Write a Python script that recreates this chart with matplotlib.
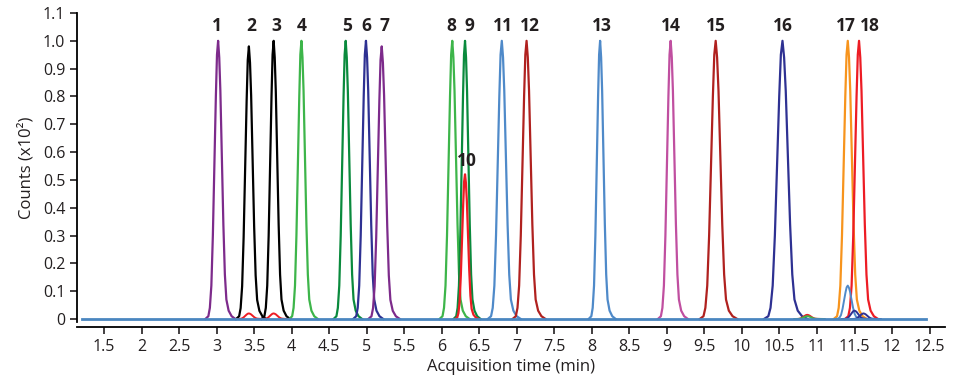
import matplotlib
matplotlib.use("Agg")
import matplotlib.pyplot as plt
import numpy as np

plt.rcParams['font.family'] = ['Open Sans', 'DejaVu Sans']

# retention time (min), height (x10^2 counts), relative width, colour of each numbered peak
peak_numbers = ['1', '2', '3', '4', '5', '6', '7', '8', '9', '10',
                '11', '12', '13', '14', '15', '16', '17', '18']
peak_times = [3.02, 3.43, 3.76, 4.13, 4.72, 4.99, 5.20, 6.14, 6.31, 6.31,
              6.80, 7.13, 8.11, 9.05, 9.65, 10.54, 11.41, 11.56]
peak_heights = [1.0, 0.98, 1.0, 1.0, 1.0, 1.0, 0.98, 1.0, 1.0, 0.52,
                1.0, 1.0, 1.0, 1.0, 1.0, 1.0, 1.0, 1.0]
peak_widths = [1.0, 1.0, 0.95, 0.95, 0.95, 1.0, 1.05, 1.0, 0.9, 0.8,
               1.1, 1.1, 0.9, 1.0, 1.25, 1.45, 1.1, 1.1]
peak_colors = ['#7D2B8B', '#000000', '#000000', '#3DB54A', '#0A8A3D', '#2E3192',
               '#7D2B8B', '#3DB54A', '#0A8A3D', '#ED1C24', '#4F8AC9', '#B0211F',
               '#4F8AC9', '#C04FA0', '#B0211F', '#2E3192', '#F7941D', '#ED1C24']

# label positions
label_x = [3.01, 3.46, 3.79, 4.13, 4.74, 4.99, 5.23, 6.13, 6.37, 6.33,
           6.82, 7.18, 8.13, 9.05, 9.65, 10.54, 11.39, 11.70]
label_y = [1.02, 1.02, 1.02, 1.02, 1.02, 1.02, 1.02, 1.02, 1.02, 0.535,
           1.02, 1.02, 1.02, 1.02, 1.02, 1.02, 1.02, 1.02]

# small co-eluting / background bumps
minor_times = [3.43, 3.76, 11.41, 10.87, 10.87, 11.50, 11.62]
minor_heights = [0.02, 0.02, 0.12, 0.015, 0.01, 0.03, 0.02]
minor_colors = ['#ED1C24', '#ED1C24', '#4F8AC9', '#ED1C24', '#3DB54A', '#2E3192', '#2E3192']

shape_offset = [-0.17, -0.13, -0.11, -0.09, -0.07, -0.05, -0.03, -0.015, 0.0,
                0.015, 0.03, 0.05, 0.07, 0.09, 0.11, 0.14, 0.18, 0.23]
shape_frac = [0.0, 0.01, 0.04, 0.12, 0.3, 0.55, 0.8, 0.95, 1.0,
              0.94, 0.82, 0.58, 0.34, 0.16, 0.07, 0.03, 0.01, 0.0]

baseline_x = [1.2, 12.45]
baseline_y = [0.0, 0.0]

fig = plt.figure(figsize=(9.58, 3.79), dpi=100)
ax = fig.add_axes([0.0804, 0.151, 0.9056, 0.8147])

off = np.array(shape_offset)
frac = np.array(shape_frac)
for t, h, w, c in zip(peak_times, peak_heights, peak_widths, peak_colors):
    ax.plot(t + off * w, h * frac, color=c, lw=1.6)
for t, h, c in zip(minor_times, minor_heights, minor_colors):
    ax.plot(t + off, h * frac, color=c, lw=1.4)

ax.plot(baseline_x, baseline_y, color='#4A86C0', lw=2.0)

for lab, x, y in zip(peak_numbers, label_x, label_y):
    ax.text(x, y, lab, ha='center', va='bottom', fontsize=12.5, fontweight='bold', color='#231F20')

ax.set_xlim(1.14, 12.7)
ax.set_ylim(-0.01, 1.1)

xt = np.arange(1.5, 12.51, 0.5)
ax.set_xticks(xt)
ax.set_xticklabels([('%g' % v) for v in xt])
yt = np.arange(0, 1.101, 0.1)
ax.set_yticks(yt)
ax.set_yticklabels(['0'] + ['%.1f' % v for v in yt[1:]])

ax.spines['top'].set_visible(False)
ax.spines['right'].set_visible(False)
ax.spines['bottom'].set_position(('outward', 4))
ax.spines['left'].set_linewidth(1.3)
ax.spines['bottom'].set_linewidth(1.3)
ax.tick_params(axis='both', direction='out', length=5, width=1.2, labelsize=11.5, colors='#231F20')

ax.set_xlabel('Acquisition time (min)', fontsize=12, color='#231F20', labelpad=3)
ax.set_ylabel('Counts (x10²)', fontsize=12, color='#231F20', labelpad=6)

fig.savefig('out.png', dpi=100)
